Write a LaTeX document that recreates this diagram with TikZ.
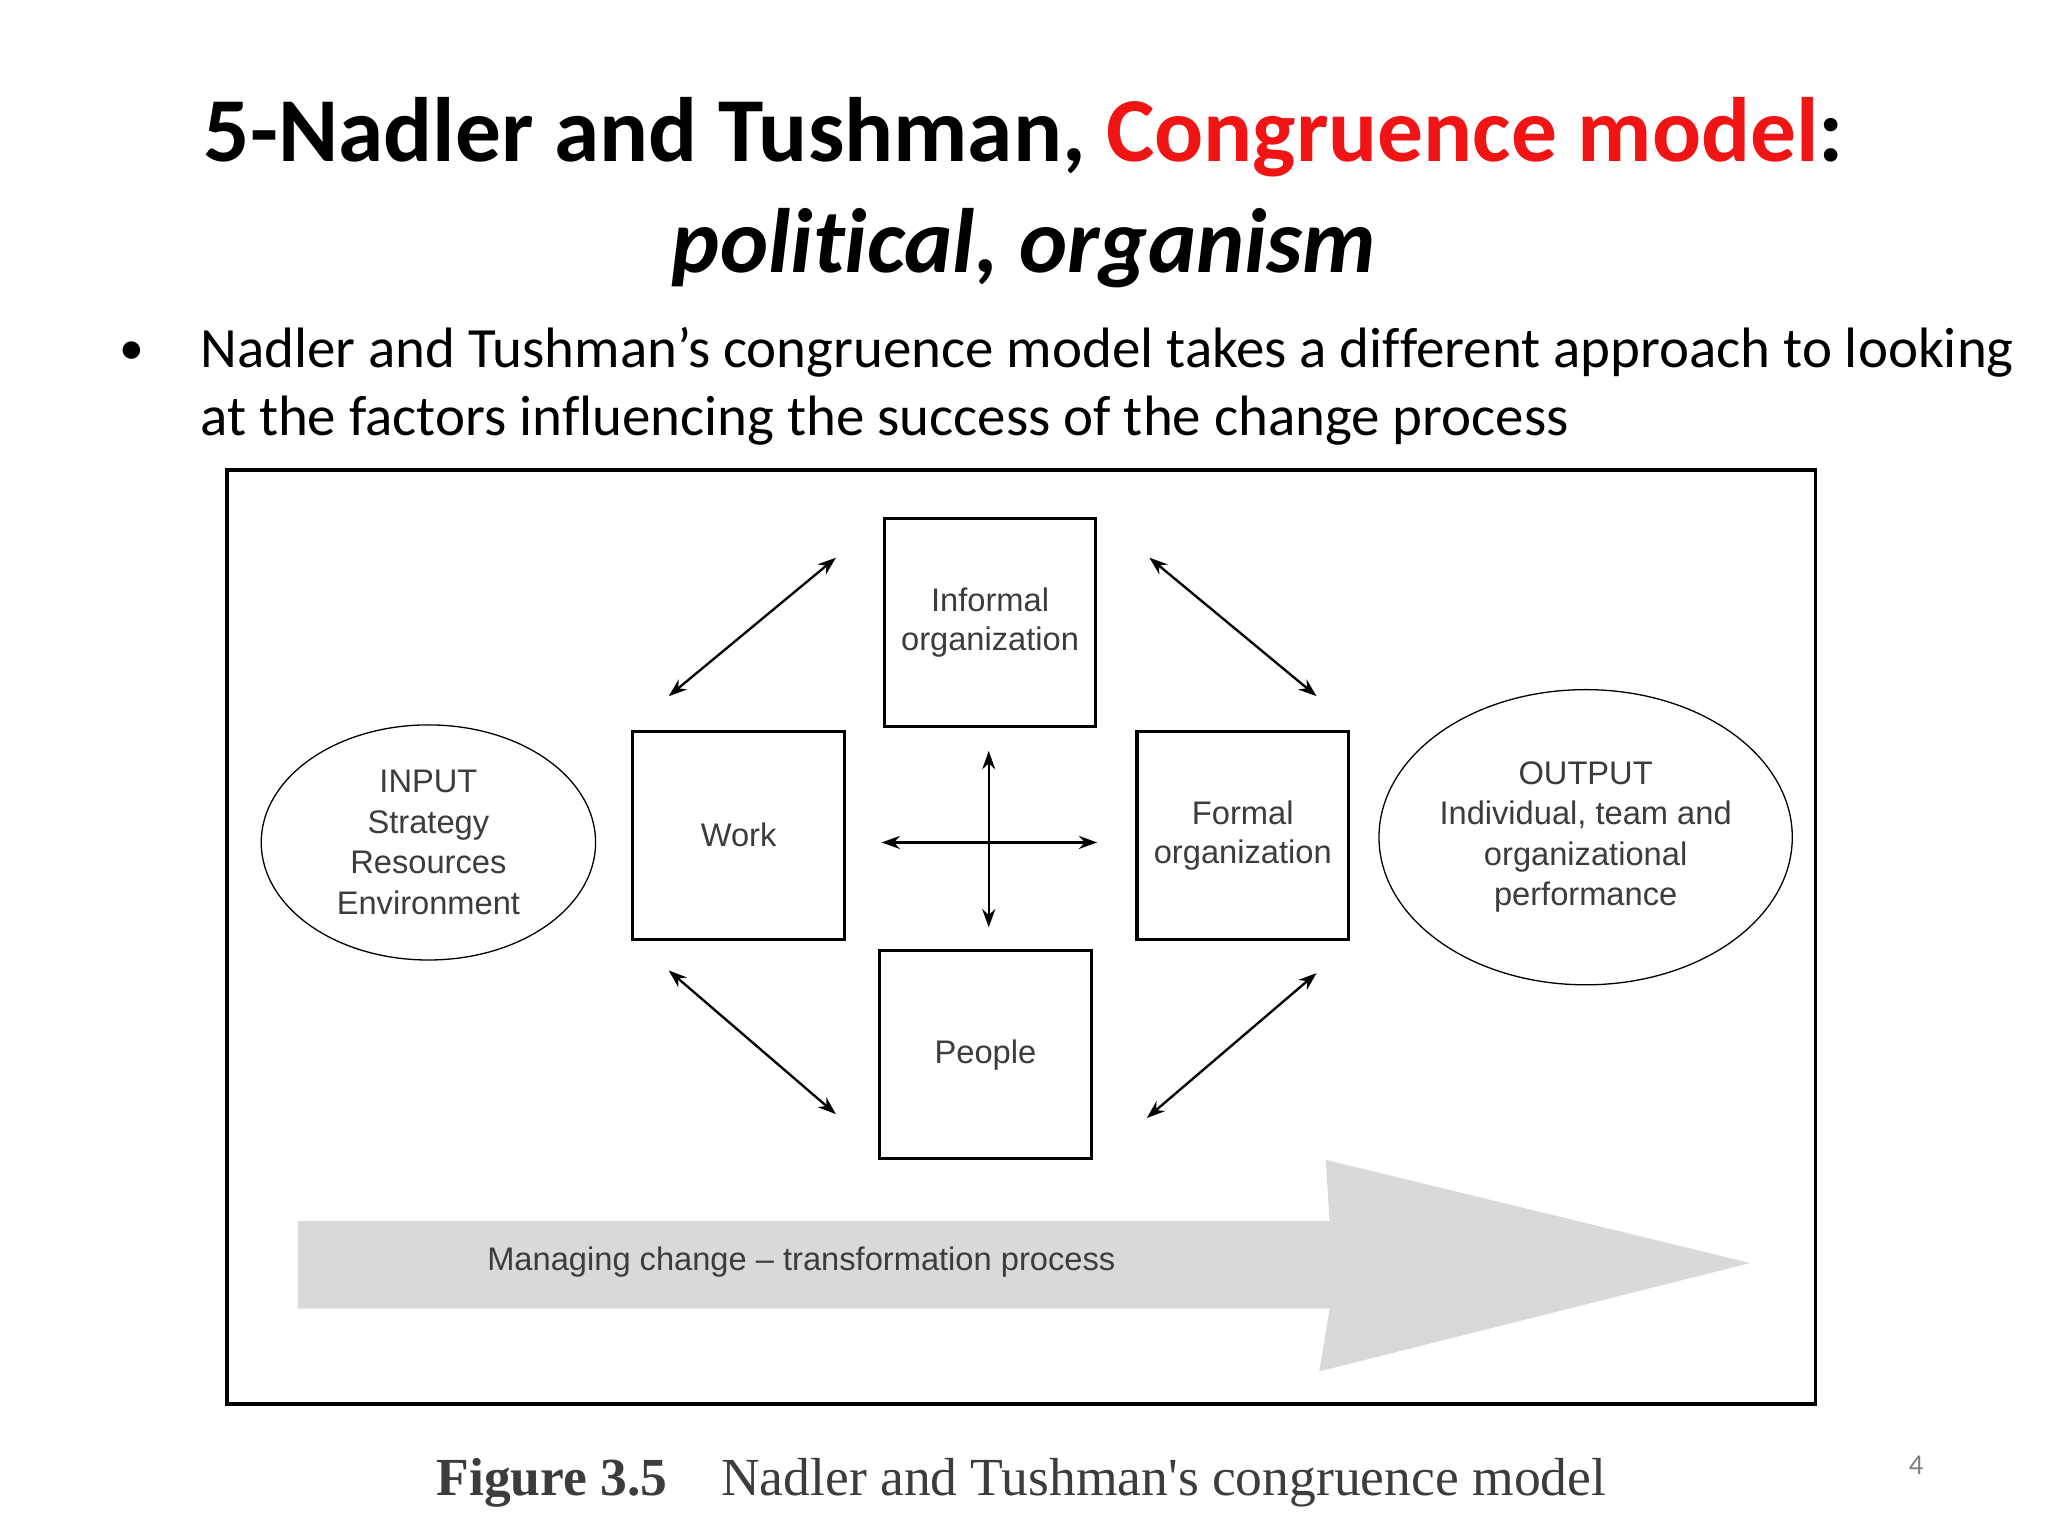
\documentclass[tikz,border=0pt]{standalone}
\usepackage{fontspec}
\setmainfont{Carlito}
\newfontfamily\arialf{Liberation Sans}
\newfontfamily\capf{Liberation Serif}
\usetikzlibrary{arrows.meta,shapes.geometric}
\definecolor{tred}{RGB}{240,20,20}
\definecolor{dtxt}{RGB}{60,60,60}
\begin{document}
\begin{tikzpicture}[x=0.5pt,y=-0.5pt,
  box/.style={draw,line width=1.2pt,minimum width=81pt,minimum height=79.5pt,inner sep=0pt,align=center,font=\arialf\fontsize{12.5}{15}\selectfont,text=dtxt},
  oval/.style={draw,line width=0.5pt,ellipse,inner sep=0pt,align=center,font=\arialf\fontsize{12.5}{15.5}\selectfont,text=dtxt},
  dbl/.style={{Stealth[length=7pt,width=5pt]}-{Stealth[length=7pt,width=5pt]},line width=0.9pt}]
\useasboundingbox (0,0) rectangle (1568,1176);
\fill[white] (0,0) rectangle (1568,1176);
\node[font=\bfseries\fontsize{35}{40}\selectfont] (t1) at (784,105) {5-Nadler and Tushman, \textcolor{tred}{Congruence model}:};
\node[font=\bfseries\itshape\fontsize{35}{40}\selectfont] (t2) at (784,190) {polit\kern0pt ical, organism};
\node[font=\fontsize{19}{24}\selectfont] (bul) at (101,270) {•};
\node[anchor=west,font=\fontsize{21.8}{26}\selectfont,inner sep=0pt] (b1) at (153,270) {Nadler and Tushman’s congruence model takes a dif\kern0pt ferent approach to looking};
\node[anchor=west,font=\fontsize{21.8}{26}\selectfont,inner sep=0pt] (b2) at (153,322) {at the factors inf\kern0pt luencing the success of the change process};
\draw[line width=1.5pt] (174,360) rectangle (1390,1075);
% big arrow
\fill[gray!30] (228,935) -- (1018,935) -- (1015,888) -- (1340,967) -- (1010,1050) -- (1018,1002) -- (228,1002) -- cycle;
\node[anchor=west,font=\arialf\fontsize{12.5}{15}\selectfont,text=dtxt] (mc) at (366,966) {Managing change – transformation process};
% boxes
\node[box] (inf) at (758,476.5) {Informal\\organization};
\node[box] (work) at (565.5,639.5) {Work};
\node[box] (form) at (951.5,639.5) {Formal\\organization};
\node[box] (peo) at (754.5,807.5) {People};
\node[oval,minimum width=128pt,minimum height=90pt] (in) at (328,645) {INPUT\\Strategy\\Resources\\Environment};
\node[oval,minimum width=151pt,minimum height=113pt] (out) at (1214,641) {OUTPUT\\Individual, team and\\organizational\\performance};
\coordinate (a1) at (512,533); \coordinate (a2) at (640,427);
\coordinate (b1c) at (880,427); \coordinate (b2c) at (1008,533);
\coordinate (c1) at (512,743); \coordinate (c2) at (640,853);
\coordinate (d1) at (878,856); \coordinate (d2) at (1008,745);
\coordinate (h1) at (675,645); \coordinate (h2) at (840,645);
\coordinate (v1) at (757,575); \coordinate (v2) at (757,710);
\draw[dbl] (a1) -- (a2);
\draw[dbl] (b1c) -- (b2c);
\draw[dbl] (c1) -- (c2);
\draw[dbl] (d1) -- (d2);
\draw[dbl] (h1) -- (h2);
\draw[dbl] (v1) -- (v2);
\node[font=\capf\fontsize{20.5}{24}\selectfont,text=dtxt] (cap) at (782,1135) {\textbf{Figure 3.5}\quad Nadler and Tushman's congruence model};
\node[font=\fontsize{11}{13}\selectfont,text=gray] (pg) at (1467,1122) {4};
\end{tikzpicture}
\end{document}
